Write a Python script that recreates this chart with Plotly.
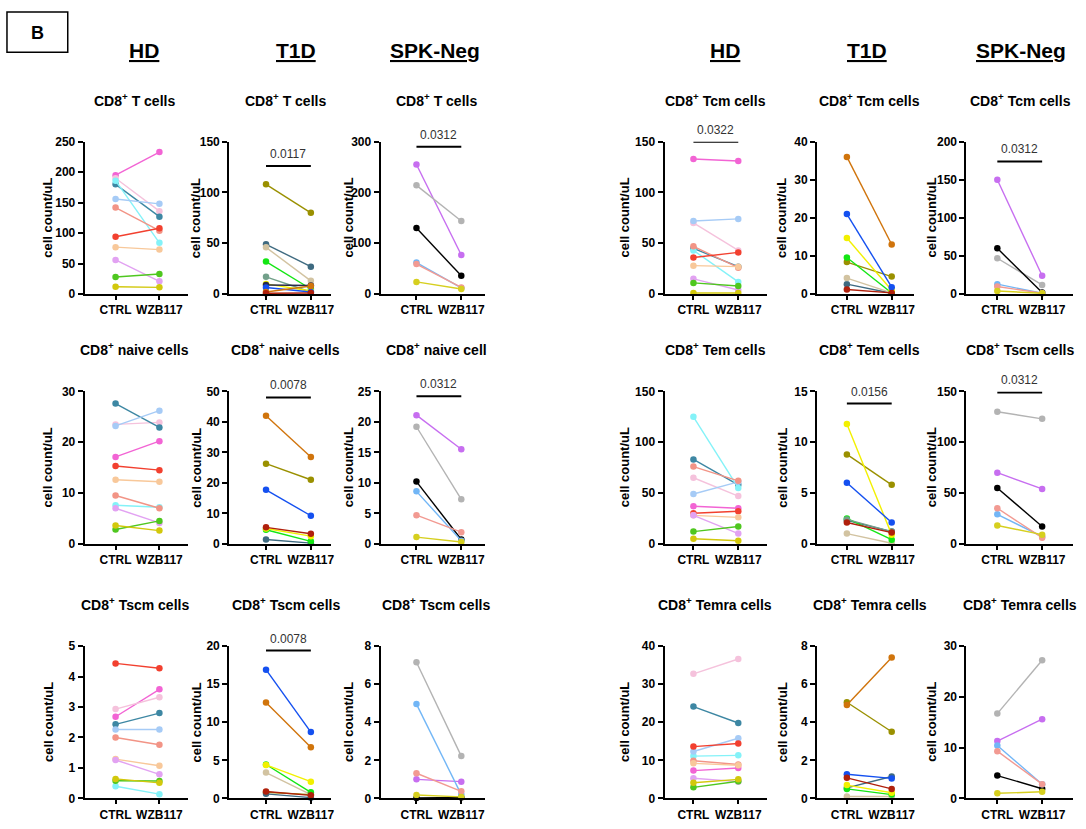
import plotly.graph_objects as go

W, H = 1086, 829
FONT = "Liberation Sans, Arial, sans-serif"

# ---------------- donors (colours per cohort) ----------------
HD_COLORS = ['#f264d4', '#f5c2dc', '#3d87a3', '#84f2f8', '#a6cbf6', '#f29486',
             '#f2402f', '#f8c89a', '#e2a2f2', '#4fc71f', '#d2c80c']
T1D_COLORS = ['#9a9000', '#3e6a80', '#d2c3a1', '#14e614', '#72a08a', '#f2f000',
              '#2a2a4a', '#1450f0', '#d0740c', '#b0200c']
SPK_COLORS = ['#c76ef0', '#b3b3b3', '#000000', '#72b6f6', '#f29a92', '#d6cf1f']

CATEGORIES = ['CTRL', 'WZB117']

# ---------------- HD ----------------
HD_T_CTRL = [195, 190, 180, 186, 156, 142, 94, 77, 56, 28, 12]
HD_T_WZB = [233, 136, 127, 84, 148, 104, 108, 73, 21, 33, 11]
HD_NAIVE_CTRL = [17.1, 23.5, 27.6, 7.6, 23.2, 9.5, 15.3, 12.6, 7.0, 2.8, 3.6]
HD_NAIVE_WZB = [20.2, 23.9, 22.9, 7.2, 26.2, 7.0, 14.5, 12.2, 4.1, 4.5, 2.6]
HD_TSCM_CTRL = [2.68, 2.93, 2.43, 0.40, 2.26, 2.00, 4.43, 1.29, 1.26, 0.58, 0.64]
HD_TSCM_WZB = [3.58, 3.32, 2.80, 0.14, 2.26, 1.76, 4.27, 1.07, 0.79, 0.57, 0.51]
HD_TCM_CTRL = [133, 70, 45, 43, 72, 47, 36, 28, 15, 11, 1]
HD_TCM_WZB = [131, 43, 27, 12, 74, 26, 41, 27, 4, 8, 1]
HD_TEM_CTRL = [37, 65, 83, 125, 49, 76, 30, 28, 28, 12, 5]
HD_TEM_WZB = [35, 47, 58, 55, 61, 62, 32, 26, 10, 17, 3]
HD_TEMRA_CTRL = [7.3, 32.7, 24.1, 11.1, 12.3, 9.9, 13.6, 9.2, 5.3, 2.9, 4.1]
HD_TEMRA_WZB = [8.0, 36.6, 19.8, 11.3, 15.8, 8.9, 14.4, 8.7, 4.4, 4.5, 5.0]

# ---------------- T1D ----------------
T1D_T_CTRL = [108, 49, 46, 32, 17, 10, 9, 6.5, 2, 0.8]
T1D_T_WZB = [80, 27, 13, 5, 2, 3, 8.5, 2, 8, 1]
T1D_NAIVE_CTRL = [26.3, 1.4, None, 4.6, None, 5.0, None, 17.7, 42, 5.4]
T1D_NAIVE_WZB = [21, 0.2, None, 0.8, None, 2.5, None, 9.2, 28.5, 3.3]
T1D_TSCM_CTRL = [0.8, 0.6, 3.4, 4.45, None, 4.4, None, 16.9, 12.6, 0.9]
T1D_TSCM_WZB = [0.5, 0.1, 0.5, 0.8, None, 2.2, None, 8.7, 6.7, 0.4]
T1D_TCM_CTRL = [8.4, 2.6, 4.2, 9.6, None, 14.7, None, 21, 36, 1.2]
T1D_TCM_WZB = [4.6, 0.2, 0.3, 0.3, None, 1.0, None, 1.8, 13, 0.3]
T1D_TEM_CTRL = [8.8, 2.3, 1.0, 2.5, 2.4, 11.8, None, 6.0, None, 2.1]
T1D_TEM_WZB = [5.8, 1.2, 0.05, 0.4, 1.2, 0.9, None, 2.1, None, 1.1]
T1D_TEMRA_CTRL = [5.05, 0.55, 0.1, 0.5, None, 0.7, None, 1.27, 4.9, 1.08]
T1D_TEMRA_WZB = [3.5, 1.15, 0.1, 0.2, None, 0.3, None, 1.05, 7.4, 0.5]

# ---------------- SPK-Neg ----------------
SPK_T_CTRL = [255, 214, 130, 62, 59, 24]
SPK_T_WZB = [77, 144, 36, 12, 13, 10]
SPK_NAIVE_CTRL = [21.1, 19.2, 10.2, 8.6, 4.7, 1.1]
SPK_NAIVE_WZB = [15.5, 7.3, 0.7, 0.5, 1.9, 0.3]
SPK_TSCM_R3_CTRL = [1.0, 7.15, 0.02, 4.95, 1.32, 0.18]
SPK_TSCM_R3_WZB = [0.88, 2.22, 0.05, 0.2, 0.37, 0.08]
SPK_TCM_CTRL = [150, 47, 60, 13, 10, 4]
SPK_TCM_WZB = [24, 12, 2, 1, 1, 1]
SPK_TSCM_R2_CTRL = [70, 130, 55, 29, 35, 18]
SPK_TSCM_R2_WZB = [54, 123, 17, 7, 6, 9]
SPK_TEMRA_CTRL = [11.3, 16.7, 4.5, 10.4, 9.3, 1.0]
SPK_TEMRA_WZB = [15.6, 27.2, 1.9, 2.8, 2.8, 1.3]

# ---------------- panel definitions ----------------
TITLES = [
    ['T cells', 'T cells', 'T cells', 'Tcm cells', 'Tcm cells', 'Tcm cells'],
    ['naive cells', 'naive cells', 'naive cell', 'Tem cells', 'Tem cells', 'Tscm cells'],
    ['Tscm cells', 'Tscm cells', 'Tscm cells', 'Temra cells', 'Temra cells', 'Temra cells'],
]
DATA = [
    [(HD_COLORS, HD_T_CTRL, HD_T_WZB), (T1D_COLORS, T1D_T_CTRL, T1D_T_WZB),
     (SPK_COLORS, SPK_T_CTRL, SPK_T_WZB), (HD_COLORS, HD_TCM_CTRL, HD_TCM_WZB),
     (T1D_COLORS, T1D_TCM_CTRL, T1D_TCM_WZB), (SPK_COLORS, SPK_TCM_CTRL, SPK_TCM_WZB)],
    [(HD_COLORS, HD_NAIVE_CTRL, HD_NAIVE_WZB), (T1D_COLORS, T1D_NAIVE_CTRL, T1D_NAIVE_WZB),
     (SPK_COLORS, SPK_NAIVE_CTRL, SPK_NAIVE_WZB), (HD_COLORS, HD_TEM_CTRL, HD_TEM_WZB),
     (T1D_COLORS, T1D_TEM_CTRL, T1D_TEM_WZB), (SPK_COLORS, SPK_TSCM_R2_CTRL, SPK_TSCM_R2_WZB)],
    [(HD_COLORS, HD_TSCM_CTRL, HD_TSCM_WZB), (T1D_COLORS, T1D_TSCM_CTRL, T1D_TSCM_WZB),
     (SPK_COLORS, SPK_TSCM_R3_CTRL, SPK_TSCM_R3_WZB), (HD_COLORS, HD_TEMRA_CTRL, HD_TEMRA_WZB),
     (T1D_COLORS, T1D_TEMRA_CTRL, T1D_TEMRA_WZB), (SPK_COLORS, SPK_TEMRA_CTRL, SPK_TEMRA_WZB)],
]
Y_MAX = [[250, 150, 300, 150, 40, 200], [30, 50, 25, 150, 15, 150], [5, 20, 8, 40, 8, 30]]
Y_DTICK = [[50, 50, 100, 50, 10, 50], [10, 10, 5, 50, 5, 50], [1, 5, 2, 10, 2, 10]]
# significance bars: (row, col, label, y value of bar)
PVALS = [
    (0, 1, '0.0117', 126), (0, 2, '0.0312', 290), (0, 3, '0.0322', 150),
    (0, 4, '0.0078', 41), (0, 5, '0.0312', 174),
    (1, 1, '0.0078', 48), (1, 2, '0.0312', 24.2), (1, 4, '0.0156', 13.8),
    (1, 5, '0.0312', 149),
    (2, 1, '0.0078', 19.4), (2, 2, '0.0625', 8.15),
]
GROUP_HEADERS = ['HD', 'T1D', 'SPK-Neg', 'HD', 'T1D', 'SPK-Neg']

# ---------------- layout geometry (pixels) ----------------
ROW_PX = [(137, 292), (391, 546), (650, 805)]        # top, bottom of plot areas
COL_PX = [(85, 189, 116, 160), (230, 332, 267, 312), (382, 487, 418, 463),
          (667, 770, 696, 741), (820, 917, 850, 895), (970, 1077, 1001, 1046)]
TITLE_Y = [95, 348, 607]
TITLE_X = [135, 287, 438, 718, 873, 1024]
YLABEL_X = [48, 197, 350, 627, 785, 935]
HEADER_X = [145, 297, 437, 728, 870, 1025]


def px(x):
    return x / W


def py(y):
    return 1 - y / H


fig = go.Figure()
layout = dict(
    width=W, height=H, margin=dict(l=0, r=0, t=0, b=0),
    paper_bgcolor='white', plot_bgcolor='white', showlegend=False,
    font=dict(family=FONT, color='black'),
)
annotations = []
shapes = []

for r in range(3):
    for c in range(6):
        n = r * 6 + c + 1
        xa = 'x' if n == 1 else f'x{n}'
        ya = 'y' if n == 1 else f'y{n}'
        left, right, cx, wx = COL_PX[c]
        top, bottom = ROW_PX[r]
        ppu = wx - cx
        xr = [-(cx - left) / ppu, (right - cx) / ppu]
        colors, ctrl, wzb = DATA[r][c]
        for col, a, b in zip(colors, ctrl, wzb):
            if a is None:
                continue
            fig.add_trace(go.Scatter(
                x=[0, 1], y=[a, b], mode='lines+markers', xaxis=xa, yaxis=ya,
                line=dict(color=col, width=1.4),
                marker=dict(color=col, size=6.5),
                cliponaxis=False, hoverinfo='skip'))
        layout['xaxis' if n == 1 else f'xaxis{n}'] = dict(
            domain=[px(left), px(right)], anchor=ya, range=xr,
            tickmode='array', tickvals=[0, 1], ticktext=CATEGORIES,
            showline=True, linecolor='black', linewidth=2,
            ticks='outside', ticklen=4, tickwidth=2, tickcolor='black',
            showgrid=False, zeroline=False, fixedrange=True,
            tickfont=dict(family=FONT, size=12, color='black', weight='bold'))
        layout['yaxis' if n == 1 else f'yaxis{n}'] = dict(
            domain=[py(bottom), py(top)], anchor=xa, range=[0, Y_MAX[r][c]],
            dtick=Y_DTICK[r][c], tick0=0,
            showline=True, linecolor='black', linewidth=2,
            ticks='outside', ticklen=5, tickwidth=2, tickcolor='black',
            showgrid=False, zeroline=False, fixedrange=True,
            tickfont=dict(family=FONT, size=12, color='black', weight='bold'))
        annotations.append(dict(
            x=px(TITLE_X[c]), y=py(TITLE_Y[r]), xref='paper', yref='paper',
            text=f'<b>CD8<sup>+</sup> {TITLES[r][c]}</b>', showarrow=False,
            font=dict(family=FONT, size=14, color='black'),
            xanchor='center', yanchor='middle'))
        annotations.append(dict(
            x=px(YLABEL_X[c]), y=py((top + bottom) / 2), xref='paper', yref='paper',
            text='<b>cell count/uL</b>', showarrow=False, textangle=-90,
            font=dict(family=FONT, size=13, color='black'),
            xanchor='center', yanchor='middle'))

for r, c, label, yv in PVALS:
    n = r * 6 + c + 1
    xa = 'x' if n == 1 else f'x{n}'
    ya = 'y' if n == 1 else f'y{n}'
    shapes.append(dict(type='line', xref=xa, yref=ya, x0=0, x1=1, y0=yv, y1=yv,
                       line=dict(color='black', width=2)))
    annotations.append(dict(x=0.5, y=yv, xref=xa, yref=ya, text=label,
                            showarrow=False, xanchor='center', yanchor='bottom', yshift=3,
                            font=dict(family=FONT, size=12, color='#333333')))

for hx, label in zip(HEADER_X, GROUP_HEADERS):
    annotations.append(dict(x=px(hx), y=py(44), xref='paper', yref='paper',
                            text=f'<b><u>{label}</u></b>', showarrow=False,
                            font=dict(family=FONT, size=21, color='black'),
                            xanchor='center', yanchor='middle'))

# panel letter box
shapes.append(dict(type='rect', xref='paper', yref='paper',
                   x0=px(7), x1=px(68), y0=py(46), y1=py(5),
                   line=dict(color='black', width=1.5)))
annotations.append(dict(x=px(37.5), y=py(26), xref='paper', yref='paper',
                        text='<b>B</b>', showarrow=False,
                        xanchor='center', yanchor='middle',
                        font=dict(family=FONT, size=18, color='black')))

layout['annotations'] = annotations
layout['shapes'] = shapes
fig.update_layout(**layout)
fig.write_html("out.html", config={'displayModeBar': False},
               post_script="document.body.style.margin='0';document.body.style.overflow='hidden';")
